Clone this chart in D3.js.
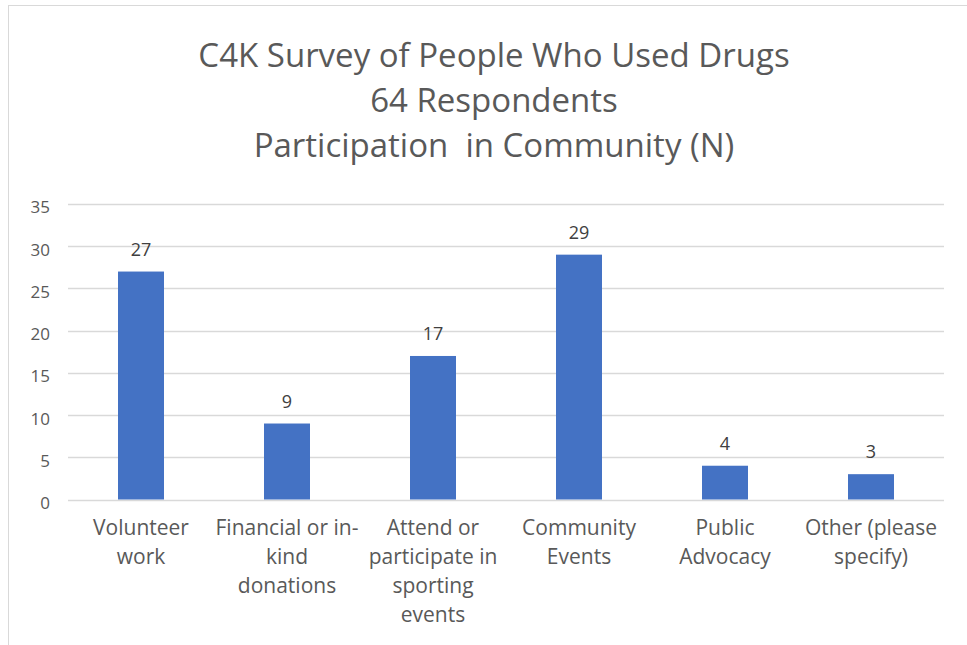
<!DOCTYPE html>
<html><head><meta charset="utf-8">
<script src="https://cdn.jsdelivr.net/npm/d3@7"></script>
<style>
html,body{margin:0;padding:0;background:#fff;}
svg{display:block;}
text{font-family:"Open Sans",Lato,sans-serif;}
</style></head>
<body><svg id="c" width="967" height="645"></svg>
<script>
const titleLines = ["C4K Survey of People Who Used Drugs", "64 Respondents", "Participation  in Community (N)"];
const categories = ["Volunteer work", "Financial or in-kind donations", "Attend or participate in sporting events", "Community Events", "Public Advocacy", "Other (please specify)"];
const categoryLines = [["Volunteer","work"],["Financial or in-","kind","donations"],["Attend or","participate in","sporting","events"],["Community","Events"],["Public","Advocacy"],["Other (please","specify)"]];
const values = [27, 9, 17, 29, 4, 3];
const yTicks = [0, 5, 10, 15, 20, 25, 30, 35];

const svg = d3.select("#c");
const m = {left: 68, right: 944, top: 204, bottom: 499.5};

// frame
svg.append("rect").attr("x", 8.5).attr("y", 5.5).attr("width", 970).attr("height", 650)
  .attr("fill", "#fff").attr("stroke", "#d9d9d9").attr("stroke-width", 1);

const x = d3.scaleBand().domain(categories).range([m.left, m.right]).padding(0);
const y = d3.scaleLinear().domain([0, 35]).range([m.bottom, m.top]);

// title
const title = svg.append("text").attr("text-anchor", "middle").attr("fill", "#595959")
  .style("font-size", "33px");
titleLines.forEach((t, i) => {
  title.append("tspan").attr("x", 494).attr("y", 67 + i * 45).attr("xml:space", "preserve").text(t);
});

// gridlines
svg.append("g").selectAll("line").data(yTicks).join("line")
  .attr("x1", m.left).attr("x2", m.right)
  .attr("y1", d => Math.round(y(d)) + 0.5).attr("y2", d => Math.round(y(d)) + 0.5)
  .attr("stroke", "#d9d9d9").attr("stroke-width", 1.3);

// y axis labels
const yAxis = d3.axisLeft(y).tickValues(yTicks).tickSize(0).tickPadding(0);
const gy = svg.append("g").attr("transform", `translate(${m.left - 18},3)`).call(yAxis);
gy.select(".domain").remove();
gy.selectAll("text").attr("fill", "#595959").style("font-size", "17px")
  .style("font-family", "'Open Sans',sans-serif")
  .attr("text-anchor", "end").attr("dy", "0.35em");

// bars
const barW = x.bandwidth() * 0.315;
svg.append("g").selectAll("rect").data(values).join("rect")
  .attr("x", (d, i) => x(categories[i]) + x.bandwidth() / 2 - barW / 2)
  .attr("width", barW)
  .attr("y", d => y(d))
  .attr("height", d => y(0) - y(d))
  .attr("fill", "#4472c4");

// value labels
svg.append("g").selectAll("text").data(values).join("text")
  .attr("x", (d, i) => x(categories[i]) + x.bandwidth() / 2)
  .attr("y", d => y(d) - 16)
  .attr("text-anchor", "middle").attr("fill", "#404040")
  .style("font-size", "18px")
  .text(d => d);

// category labels
const gx = svg.append("g");
categoryLines.forEach((lines, i) => {
  const t = gx.append("text").attr("text-anchor", "middle").attr("fill", "#595959")
    .style("font-size", "21px");
  lines.forEach((ln, j) => {
    t.append("tspan").attr("x", x(categories[i]) + x.bandwidth() / 2)
      .attr("y", 535 + j * 29).text(ln);
  });
});
</script></body></html>
